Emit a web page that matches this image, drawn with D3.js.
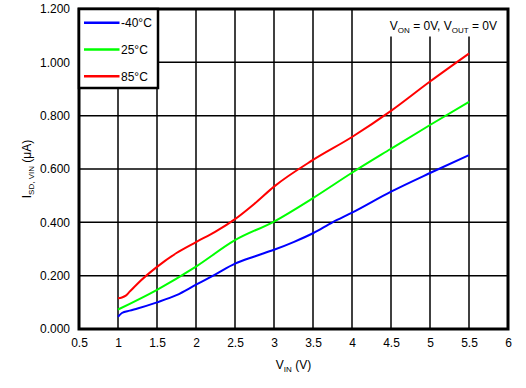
<!DOCTYPE html>
<html>
<head>
<meta charset="utf-8">
<script src="https://cdn.jsdelivr.net/npm/d3@7"></script>
<style>
  body { margin: 0; background: #fff; }
  svg text { font-family: "Liberation Sans", Arial, sans-serif; fill: #000; }
</style>
</head>
<body>
<svg id="chart" width="526" height="388"></svg>
<script>
var xTicks = [0.5, 1, 1.5, 2, 2.5, 3, 3.5, 4, 4.5, 5, 5.5, 6];
var yTicks = [0, 0.2, 0.4, 0.6, 0.8, 1.0, 1.2];

var vinBlue = [1, 1.05, 1.15, 1.25, 1.5, 1.75, 2, 2.25, 2.5, 2.75, 3, 3.25, 3.5, 3.75, 4, 4.5, 5, 5.5];
var iBlue = [0.046, 0.06, 0.069, 0.077, 0.100, 0.127, 0.166, 0.205, 0.245, 0.272, 0.297, 0.326, 0.359, 0.400, 0.436, 0.515, 0.585, 0.652];

var vinGreen = [1, 1.5, 2, 2.5, 3, 3.5, 4, 4.5, 5, 5.5];
var iGreen = [0.073, 0.147, 0.234, 0.333, 0.403, 0.491, 0.586, 0.676, 0.765, 0.852];

var vinRed = [1, 1.05, 1.1, 1.15, 1.25, 1.5, 1.75, 2, 2.25, 2.5, 2.75, 3, 3.5, 4, 4.5, 5, 5.5];
var iRed = [0.115, 0.118, 0.125, 0.14, 0.17, 0.233, 0.285, 0.326, 0.365, 0.412, 0.47, 0.534, 0.634, 0.72, 0.818, 0.928, 1.033];

var seriesNames = ["-40°C", "25°C", "85°C"];
var seriesColors = ["#0000ff", "#00ff00", "#ff0000"];

var svg = d3.select("#chart");
var margin = { top: 9, right: 18, bottom: 59, left: 79 },
  width = 526 - margin.left - margin.right,
  height = 388 - margin.top - margin.bottom;

var g = svg.append("g")
  .attr("transform", "translate(" + margin.left + "," + margin.top + ")");

var xScale = d3.scaleLinear().domain([0.5, 6]).range([0, width]);
var yScale = d3.scaleLinear().domain([0, 1.2]).range([height, 0]);

// grid
g.selectAll(".vgrid")
  .data(xTicks)
  .enter().append("line")
  .attr("x1", function(d) { return xScale(d); })
  .attr("x2", function(d) { return xScale(d); })
  .attr("y1", 0)
  .attr("y2", height)
  .style("stroke", "#000")
  .style("stroke-width", 1.5);

g.selectAll(".hgrid")
  .data(yTicks)
  .enter().append("line")
  .attr("x1", 0)
  .attr("x2", width)
  .attr("y1", function(d) { return yScale(d); })
  .attr("y2", function(d) { return yScale(d); })
  .style("stroke", "#000")
  .style("stroke-width", 1.5);

// axes (labels only)
var xAxis = d3.axisBottom(xScale).tickValues(xTicks).tickSize(0).tickPadding(9)
  .tickFormat(function(d) { return String(d); });
var yAxis = d3.axisLeft(yScale).tickValues(yTicks).tickSize(0).tickPadding(9)
  .tickFormat(d3.format(".3f"));

var gx = g.append("g")
  .attr("transform", "translate(0," + height + ")")
  .call(xAxis);
var gy = g.append("g").call(yAxis);
[gx, gy].forEach(function(a) {
  a.select(".domain").remove();
  a.selectAll("text")
    .style("font-size", "12px")
    .style("font-family", "'Liberation Sans', Arial, sans-serif")
    .style("fill", "#000");
});

// data lines
var line = d3.line()
  .x(function(d) { return xScale(d[0]); })
  .y(function(d) { return yScale(d[1]); })
  .curve(d3.curveMonotoneX);

var series = [
  d3.zip(vinBlue, iBlue),
  d3.zip(vinGreen, iGreen),
  d3.zip(vinRed, iRed)
];

series.forEach(function(s, i) {
  g.append("path")
    .datum(s)
    .attr("d", line)
    .style("fill", "none")
    .style("stroke", seriesColors[i])
    .style("stroke-width", 2);
});

// white box behind the annotation (covers grid)
g.append("rect")
  .attr("x", xScale(4.25))
  .attr("y", 0)
  .attr("width", width - xScale(4.25))
  .attr("height", 27.5)
  .style("fill", "#fff");

// frame
g.append("rect")
  .attr("x", 0)
  .attr("y", 0)
  .attr("width", width)
  .attr("height", height)
  .style("fill", "none")
  .style("stroke", "#000")
  .style("stroke-width", 3);

// legend
var legend = g.append("g");
legend.append("rect")
  .attr("x", 0)
  .attr("y", 0)
  .attr("width", 79)
  .attr("height", 79)
  .style("fill", "#fff")
  .style("stroke", "#000")
  .style("stroke-width", 2.5);

var items = legend.selectAll(".item")
  .data(seriesNames)
  .enter().append("g")
  .attr("transform", function(d, i) { return "translate(0," + (13.7 + i * 26.8) + ")"; });

items.append("line")
  .attr("x1", 5)
  .attr("x2", 40.5)
  .attr("y1", 0)
  .attr("y2", 0)
  .style("stroke", function(d, i) { return seriesColors[i]; })
  .style("stroke-width", 2.5);

items.append("text")
  .attr("x", 42)
  .attr("y", 0)
  .attr("dy", "0.35em")
  .style("font-size", "12px")
  .text(function(d) { return d; });

// annotation
var note = svg.append("text")
  .attr("x", 497)
  .attr("y", 29.5)
  .style("text-anchor", "end")
  .style("font-size", "12px");
note.append("tspan").text("V");
note.append("tspan").attr("dy", 3).style("font-size", "8px").text("ON");
note.append("tspan").attr("dy", -3).text(" = 0V, V");
note.append("tspan").attr("dy", 3).style("font-size", "8px").text("OUT");
note.append("tspan").attr("dy", -3).text(" = 0V");

// axis titles
var xt = svg.append("text")
  .attr("x", margin.left + width / 2)
  .attr("y", 369)
  .style("text-anchor", "middle")
  .style("font-size", "12px");
xt.append("tspan").text("V");
xt.append("tspan").attr("dy", 3).style("font-size", "8px").text("IN");
xt.append("tspan").attr("dy", -3).text(" (V)");

var yt = svg.append("text")
  .attr("transform", "translate(31," + (margin.top + height / 2) + ") rotate(-90)")
  .style("text-anchor", "middle")
  .style("font-size", "12px");
yt.append("tspan").text("I");
yt.append("tspan").attr("dy", 3).style("font-size", "8px").text("SD, VIN");
yt.append("tspan").attr("dy", -3).text(" (μA)");
</script>
</body>
</html>
